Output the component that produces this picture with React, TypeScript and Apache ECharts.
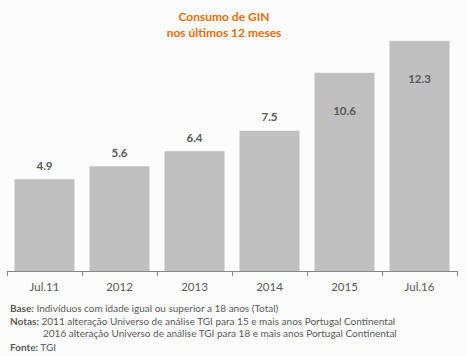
import React, { useEffect, useRef } from "react";
import * as echarts from "echarts";

const categories = ["Jul.11", "2012", "2013", "2014", "2015", "Jul.16"];
const values = [4.9, 5.6, 6.4, 7.5, 10.6, 12.3];
const insideLabel = [false, false, false, false, true, true];
const titleLines = ["Consumo de GIN", "nos últimos 12 meses"];

const FONT = "Lato, 'Open Sans', sans-serif";
const GREY = "#595959";
const FS = 10;

export default function App() {
  const ref = useRef<HTMLDivElement>(null);
  useEffect(() => {
    const chart = echarts.init(ref.current!, null, { renderer: "svg" });
    const bold = { fontWeight: "bold", fontSize: FS, fontFamily: FONT, fill: GREY };
    chart.setOption({
      animation: false,
      backgroundColor: "#fcfcfc",
      grid: { left: 7, right: 10, top: 9, bottom: 85, containLabel: false },
      xAxis: {
        type: "category",
        data: categories,
        axisLine: { lineStyle: { color: "#868686", width: 1 } },
        axisTick: { show: true, length: 5, lineStyle: { color: "#868686" } },
        axisLabel: { color: GREY, fontSize: 11.5, fontFamily: FONT, margin: 9 },
      },
      yAxis: {
        type: "value",
        min: 0,
        max: 14,
        show: false,
        splitLine: { show: false },
      },
      series: [
        {
          type: "bar",
          barCategoryGap: "20%",
          itemStyle: { color: "#bfbfbf" },
          data: values.map((v, i) => ({
            value: v,
            label: insideLabel[i]
              ? { position: "insideTop", distance: 32 }
              : { position: "top", distance: 8 },
          })),
          label: {
            show: true,
            color: GREY,
            fontWeight: "bold",
            fontSize: 11.5,
            fontFamily: FONT,
            formatter: (p: any) => p.value.toFixed(1),
          },
        },
      ],
      graphic: [
        {
          type: "text",
          x: 224,
          y: 16,
          style: {
            text: titleLines[0],
            fill: "#e46c0a",
            font: `bold 12px ${FONT}`,
            textAlign: "center",
            textVerticalAlign: "middle",
          },
        },
        {
          type: "text",
          x: 224,
          y: 32,
          style: {
            text: titleLines[1],
            fill: "#e46c0a",
            font: `bold 12px ${FONT}`,
            textAlign: "center",
            textVerticalAlign: "middle",
          },
        },
        {
          type: "text",
          x: 10,
          y: 308,
          style: {
            text: "{b|Base:} Indivíduos com idade igual ou superior a 18 anos (Total)",
            rich: { b: bold },
            fill: GREY,
            fontSize: FS,
            fontFamily: FONT,
            verticalAlign: "middle",
          },
        },
        {
          type: "text",
          x: 10,
          y: 321,
          style: {
            text: "{b|Notas:} 2011 alteração Universo de análise TGI para 15 e mais anos Portugal Continental",
            rich: { b: bold },
            fill: GREY,
            fontSize: FS,
            fontFamily: FONT,
            verticalAlign: "middle",
          },
        },
        {
          type: "text",
          x: 43,
          y: 333,
          style: {
            text: "2016 alteração Universo de análise TGI para 18 e mais anos Portugal Continental",
            fill: GREY,
            fontSize: FS,
            fontFamily: FONT,
            verticalAlign: "middle",
          },
        },
        {
          type: "text",
          x: 10,
          y: 347,
          style: {
            text: "{b|Fonte:} TGI",
            rich: { b: bold },
            fill: GREY,
            fontSize: FS,
            fontFamily: FONT,
            verticalAlign: "middle",
          },
        },
      ],
    });
    return () => chart.dispose();
  }, []);
  return <div ref={ref} style={{ width: 467, height: 356, position: "absolute", left: 0, top: 0 }} />;
}
